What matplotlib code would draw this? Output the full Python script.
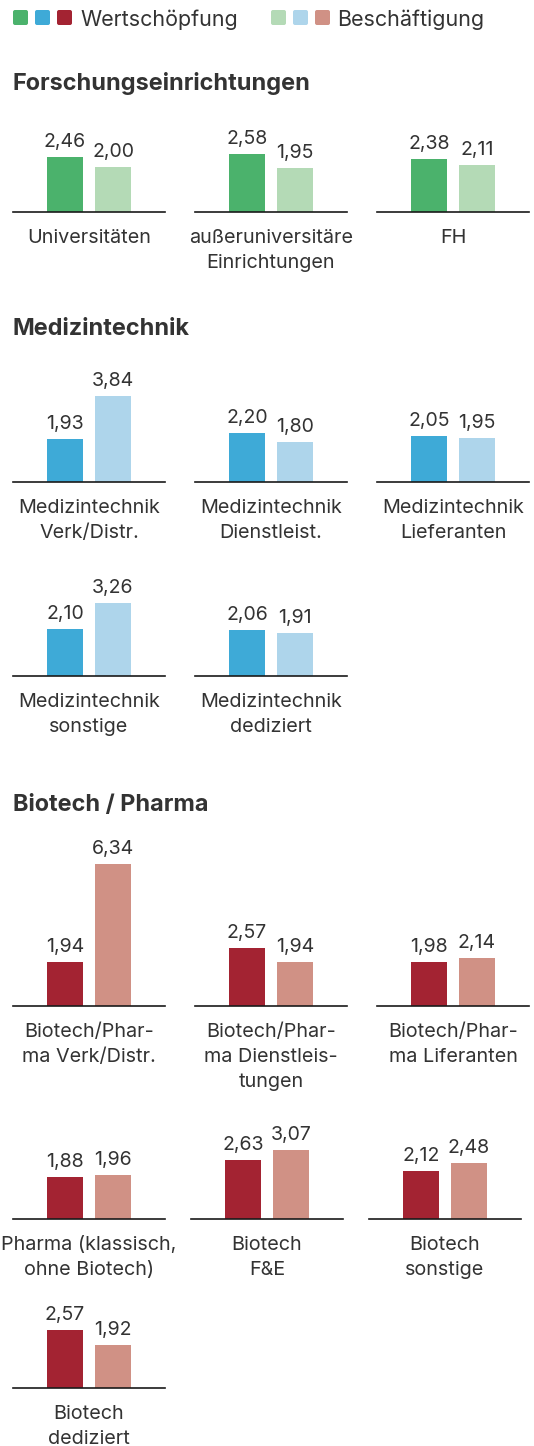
"""
Small multiples: Wertschöpfung vs. Beschäftigung multipliers per sector
"""
import matplotlib
matplotlib.use("Agg")
import matplotlib.pyplot as plt
from matplotlib.patches import FancyBboxPatch

plt.rcParams.update({
    "font.family": ["Inter", "DejaVu Sans"],
    "figure.dpi": 100,
})

W, H = 534, 1446
PX = 0.72  # pixel -> point at 100 dpi
TEXT = "#333333"

# ---- data ------------------------------------------------------------------
groups = ["Forschungseinrichtungen", "Medizintechnik", "Biotech / Pharma"]

forschung_labels = ["Universitäten", "außeruniversitäre\nEinrichtungen", "FH"]
forschung_wert = [2.46, 2.58, 2.38]
forschung_besch = [2.00, 1.95, 2.11]

medizin_labels = ["Medizintechnik\nVerk/Distr.", "Medizintechnik\nDienstleist.",
                  "Medizintechnik\nLieferanten", "Medizintechnik\nsonstige",
                  "Medizintechnik\ndediziert"]
medizin_wert = [1.93, 2.20, 2.05, 2.10, 2.06]
medizin_besch = [3.84, 1.80, 1.95, 3.26, 1.91]

biotech_labels = ["Biotech/Phar-\nma Verk/Distr.", "Biotech/Phar-\nma Dienstleis-\ntungen",
                  "Biotech/Phar-\nma Liferanten", "Pharma (klassisch,\nohne Biotech)",
                  "Biotech\nF&E", "Biotech\nsonstige", "Biotech\ndediziert"]
biotech_wert = [1.94, 2.57, 1.98, 1.88, 2.63, 2.12, 2.57]
biotech_besch = [6.34, 1.94, 2.14, 1.96, 3.07, 2.48, 1.92]

legend_names = ["Wertschöpfung", "Beschäftigung"]

# colours: (dark, light) per group
colours = [("#4bb26c", "#b4dab6"),
           ("#3eaad7", "#aed5eb"),
           ("#a32332", "#d09185")]

# ---- layout (pixels) -------------------------------------------------------
title_y = [90, 335, 811]
row_baselines = [[212], [482, 676], [1006, 1219, 1388]]
row_xstarts = [[[13, 195, 377]],
               [[13, 195, 377], [13, 195, 377]],
               [[13, 195, 377], [13, 191, 369], [13, 195, 377]]]
PANEL_W = 152
PANEL_H = 160
SCALE = 22.45          # px per unit
BAR_OFF, BAR_W, PITCH = 34, 36, 48

fig = plt.figure(figsize=(W / 100, H / 100), dpi=100)
bg = fig.add_axes([0, 0, 1, 1])
bg.set_xlim(0, W)
bg.set_ylim(H, 0)
bg.axis("off")

# legend
for i, x0 in enumerate([13, 35, 57]):
    bg.add_patch(FancyBboxPatch((x0 + 1, 11), 13, 13, boxstyle="round,pad=1,rounding_size=2",
                                color=colours[i][0], lw=0))
bg.text(80, 26, legend_names[0], fontsize=21.5 * PX, color=TEXT, va="baseline")
for i, x0 in enumerate([271, 293, 315]):
    bg.add_patch(FancyBboxPatch((x0 + 1, 11), 13, 13, boxstyle="round,pad=1,rounding_size=2",
                                color=colours[i][1], lw=0))
bg.text(337, 26, legend_names[1], fontsize=21.5 * PX, color=TEXT, va="baseline")

data = [(forschung_labels, forschung_wert, forschung_besch),
        (medizin_labels, medizin_wert, medizin_besch),
        (biotech_labels, biotech_wert, biotech_besch)]

for g, (labels, wert, besch) in enumerate(data):
    bg.text(13, title_y[g], groups[g], fontsize=23.5 * PX, fontweight="bold",
            color=TEXT, va="baseline")
    positions = [(b, x) for r, b in enumerate(row_baselines[g])
                 for x in row_xstarts[g][r]]
    for k, lab in enumerate(labels):
        base, x0 = positions[k]
        ax = fig.add_axes([x0 / W, 1 - base / H, PANEL_W / W, PANEL_H / H])
        ax.set_xlim(-(BAR_OFF + BAR_W / 2) / PITCH, (PANEL_W - BAR_OFF - BAR_W / 2) / PITCH)
        ax.set_ylim(0, PANEL_H / SCALE)
        vals = [wert[k], besch[k]]
        ax.bar([0, 1], vals, width=BAR_W / PITCH, color=colours[g], lw=0)
        for i, v in enumerate(vals):
            ax.annotate(f"{v:.2f}".replace(".", ","), xy=(i, v), xytext=(0, 10),
                        textcoords="offset pixels", ha="center", va="baseline",
                        fontsize=19.5 * PX, color=TEXT)
        for j, line in enumerate(lab.split("\n")):
            ax.annotate(line, xy=(0.5, 0), xycoords="axes fraction",
                        xytext=(0, -31 - 25 * j), textcoords="offset pixels",
                        ha="center", va="baseline", fontsize=19.8 * PX, color=TEXT)
        for s in ["top", "left", "right"]:
            ax.spines[s].set_visible(False)
        ax.spines["bottom"].set_color("#1a1a1a")
        ax.spines["bottom"].set_linewidth(1.2)
        ax.set_xticks([])
        ax.set_yticks([])
        ax.patch.set_alpha(0)

fig.savefig("out.png", dpi=100)
